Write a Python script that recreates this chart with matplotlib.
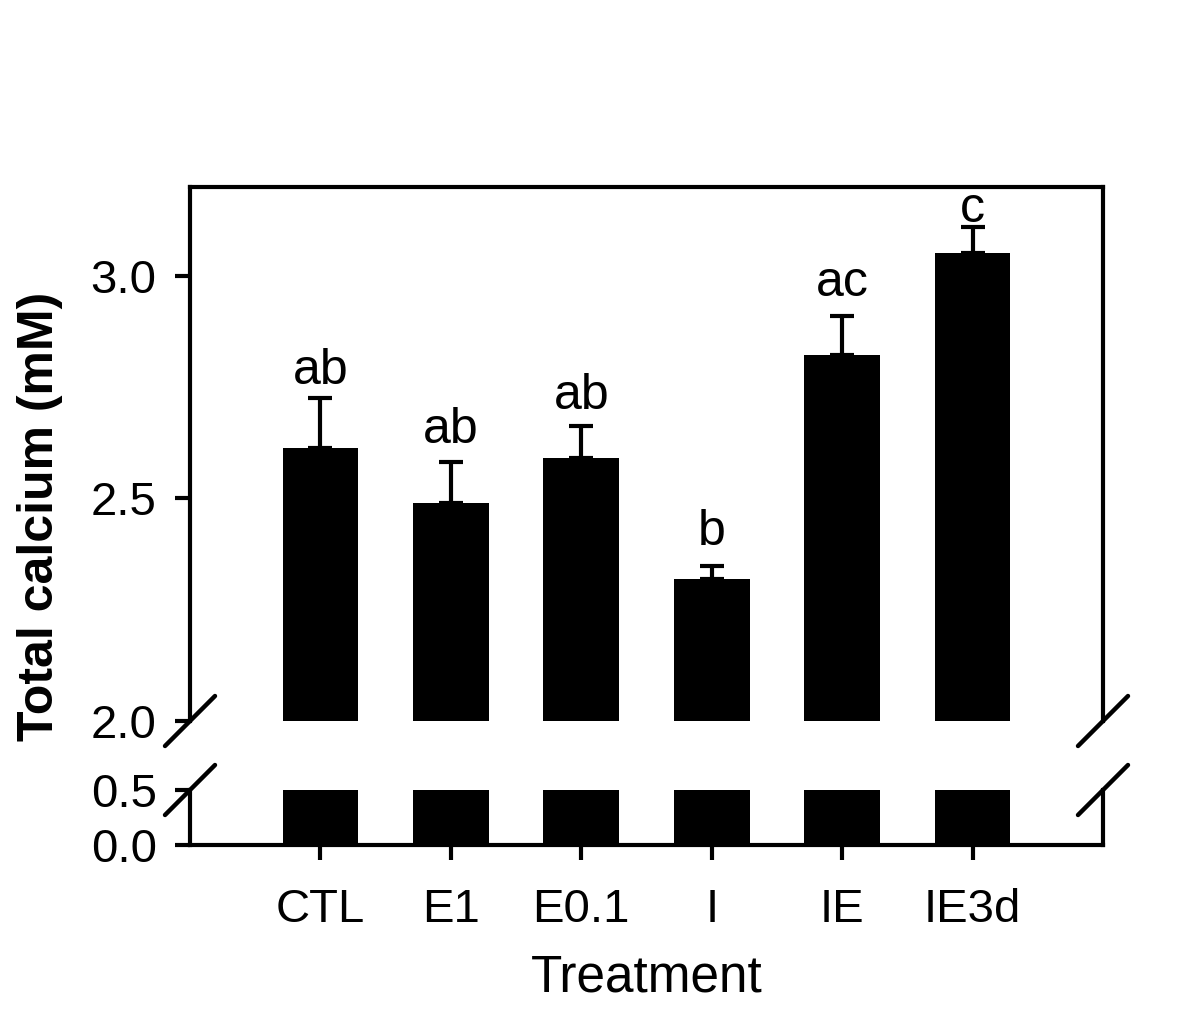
import matplotlib
matplotlib.use("Agg")
import matplotlib.pyplot as plt
import numpy as np

categories = ["CTL", "E1", "E0.1", "I", "IE", "IE3d"]
means = [2.613, 2.491, 2.592, 2.320, 2.822, 3.052]
sems = [0.112, 0.092, 0.072, 0.029, 0.088, 0.058]
letters = ["ab", "ab", "ab", "b", "ac", "c"]
letter_offsets_px = [14, 19, 17, 21, 20, 5]

plt.rcParams['font.family'] = ['Liberation Sans', 'DejaVu Sans']

W, H = 1200, 1011
fig = plt.figure(figsize=(W / 100, H / 100), dpi=100)

L, R = 190, 1103
top_t, top_b = 187, 721
bot_t, bot_b = 790, 845

ax_top = fig.add_axes([L / W, (H - top_b) / H, (R - L) / W, (top_b - top_t) / H])
ax_bot = fig.add_axes([L / W, (H - bot_b) / H, (R - L) / W, (bot_b - bot_t) / H])

x = np.arange(len(categories))
lw = 3.0
px2pt = 72 / 100

for ax in (ax_top, ax_bot):
    ax.bar(x, means, width=0.58, color='black', edgecolor='black', linewidth=0)
    ax.set_xlim(-1, 6)
    for s in ax.spines.values():
        s.set_linewidth(lw)
    ax.tick_params(axis='y', direction='out', length=11, width=lw, labelsize=34, pad=13)
    ax.tick_params(axis='x', direction='out', length=11, width=lw, labelsize=34, pad=20)

ax_top.errorbar(x, means, yerr=[np.zeros(len(sems)), sems], fmt='none', ecolor='black',
                elinewidth=lw, capsize=8.5, capthick=lw)
ax_top.set_ylim(2.0, 3.2)
ax_top.set_yticks([2.0, 2.5, 3.0])
ax_top.set_yticklabels(["2.0", "2.5", "3.0"])
ax_top.spines['bottom'].set_visible(False)
ax_top.tick_params(axis='x', bottom=False, labelbottom=False)

ax_bot.set_ylim(0, 0.5)
ax_bot.set_yticks([0.0, 0.5])
ax_bot.set_yticklabels(["0.0", "0.5"])
ax_bot.spines['top'].set_visible(False)
ax_bot.set_xticks(x)
ax_bot.set_xticklabels(categories)

for xi, m, s, lab, off in zip(x, means, sems, letters, letter_offsets_px):
    ax_top.annotate(lab, xy=(xi, m + s), xytext=(0, off * px2pt), textcoords='offset points',
                    ha='center', va='baseline', fontsize=36)

# break marks
d = 25
for ax, yfrac, hpx in ((ax_top, 0.0, top_b - top_t), (ax_bot, 1.0, bot_b - bot_t)):
    dx = d / (R - L)
    dy = d / hpx
    for xf in (0.0, 1.0):
        ax.plot([xf - dx, xf + dx], [yfrac - dy, yfrac + dy], transform=ax.transAxes,
                color='black', lw=3.2, clip_on=False, solid_capstyle='round')

fig.text(40 / W, (H - 516) / H, "Total calcium (mM)", rotation=90, ha='center', va='center',
         fontsize=36, fontweight='bold')
fig.text((L + R) / 2 / W, (H - 992) / H, "Treatment", ha='center', va='baseline', fontsize=37)

fig.savefig("out.png", dpi=100, facecolor='white')
